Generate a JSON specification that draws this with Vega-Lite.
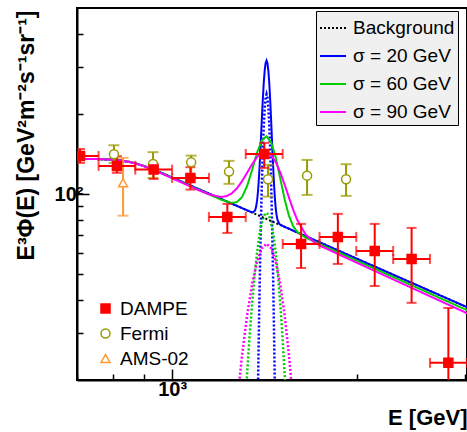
{
  "$schema": "https://vega.github.io/schema/vega-lite/v6.json",
  "width": 390,
  "height": 372,
  "autosize": {"type": "none"},
  "padding": {"left": 77, "top": 8, "right": 0, "bottom": 52},
  "background": "white",
  "config": {
    "font": "Liberation Sans",
    "view": {"stroke": "black", "strokeWidth": 2},
    "axis": {"grid": false, "domainColor": "black", "domainWidth": 2, "tickColor": "black", "tickWidth": 1.5, "labelColor": "black", "titleColor": "black", "labelFont": "Liberation Sans", "titleFont": "Liberation Sans"}
  },
  "datasets": {
    "curves": [
      {"E": 700, "F": 135.5, "s": "Background"}, {"E": 750, "F": 135.3, "s": "Background"}, {"E": 800, "F": 134.6, "s": "Background"}, {"E": 825, "F": 133.7, "s": "Background"}, {"E": 850, "F": 132.1, "s": "Background"}, {"E": 875, "F": 130.0, "s": "Background"}, {"E": 900, "F": 127.4, "s": "Background"}, {"E": 925, "F": 124.4, "s": "Background"}, {"E": 950, "F": 121.4, "s": "Background"}, {"E": 975, "F": 118.4, "s": "Background"}, {"E": 1000, "F": 115.4, "s": "Background"}, {"E": 1100, "F": 104.8, "s": "Background"}, {"E": 1200, "F": 95.97, "s": "Background"}, {"E": 1300, "F": 88.47, "s": "Background"}, {"E": 1400, "F": 82.05, "s": "Background"}, {"E": 1500, "F": 76.5, "s": "Background"}, {"E": 1700, "F": 67.37, "s": "Background"}, {"E": 2000, "F": 57.12, "s": "Background"}, {"E": 2500, "F": 45.53, "s": "Background"}, {"E": 3050, "F": 37.2, "s": "Background"},

      {"E": 700, "F": 135.5, "s": "σ = 20 GeV"}, {"E": 750, "F": 135.3, "s": "σ = 20 GeV"}, {"E": 800, "F": 134.6, "s": "σ = 20 GeV"}, {"E": 825, "F": 133.7, "s": "σ = 20 GeV"}, {"E": 850, "F": 132.1, "s": "σ = 20 GeV"}, {"E": 875, "F": 130.0, "s": "σ = 20 GeV"}, {"E": 900, "F": 127.4, "s": "σ = 20 GeV"}, {"E": 925, "F": 124.4, "s": "σ = 20 GeV"}, {"E": 950, "F": 121.4, "s": "σ = 20 GeV"}, {"E": 975, "F": 118.4, "s": "σ = 20 GeV"}, {"E": 1000, "F": 115.4, "s": "σ = 20 GeV"}, {"E": 1100, "F": 104.8, "s": "σ = 20 GeV"}, {"E": 1200, "F": 95.97, "s": "σ = 20 GeV"}, {"E": 1300, "F": 88.47, "s": "σ = 20 GeV"}, {"E": 1345, "F": 85.55, "s": "σ = 20 GeV"}, {"E": 1355, "F": 85.34, "s": "σ = 20 GeV"}, {"E": 1365, "F": 86.79, "s": "σ = 20 GeV"}, {"E": 1370, "F": 89.29, "s": "σ = 20 GeV"}, {"E": 1375, "F": 93.97, "s": "σ = 20 GeV"}, {"E": 1380, "F": 102.16, "s": "σ = 20 GeV"}, {"E": 1385, "F": 115.06, "s": "σ = 20 GeV"}, {"E": 1390, "F": 133.96, "s": "σ = 20 GeV"}, {"E": 1395, "F": 159.26, "s": "σ = 20 GeV"}, {"E": 1400, "F": 190.55, "s": "σ = 20 GeV"}, {"E": 1405, "F": 225.47, "s": "σ = 20 GeV"}, {"E": 1410, "F": 260.36, "s": "σ = 20 GeV"}, {"E": 1415, "F": 290.37, "s": "σ = 20 GeV"}, {"E": 1420, "F": 310.58, "s": "σ = 20 GeV"}, {"E": 1425, "F": 317.59, "s": "σ = 20 GeV"}, {"E": 1430, "F": 310.01, "s": "σ = 20 GeV"}, {"E": 1435, "F": 289.22, "s": "σ = 20 GeV"}, {"E": 1440, "F": 258.64, "s": "σ = 20 GeV"}, {"E": 1445, "F": 223.16, "s": "σ = 20 GeV"}, {"E": 1450, "F": 187.69, "s": "σ = 20 GeV"}, {"E": 1455, "F": 155.81, "s": "σ = 20 GeV"}, {"E": 1460, "F": 129.93, "s": "σ = 20 GeV"}, {"E": 1465, "F": 110.46, "s": "σ = 20 GeV"}, {"E": 1470, "F": 96.98, "s": "σ = 20 GeV"}, {"E": 1475, "F": 88.21, "s": "σ = 20 GeV"}, {"E": 1480, "F": 82.95, "s": "σ = 20 GeV"}, {"E": 1485, "F": 79.89, "s": "σ = 20 GeV"}, {"E": 1495, "F": 77.29, "s": "σ = 20 GeV"}, {"E": 1505, "F": 76.32, "s": "σ = 20 GeV"}, {"E": 1600, "F": 71.66, "s": "σ = 20 GeV"}, {"E": 2000, "F": 57.12, "s": "σ = 20 GeV"}, {"E": 2500, "F": 45.53, "s": "σ = 20 GeV"}, {"E": 3050, "F": 37.2, "s": "σ = 20 GeV"},

      {"E": 700, "F": 135.5, "s": "σ = 60 GeV"}, {"E": 750, "F": 135.3, "s": "σ = 60 GeV"}, {"E": 800, "F": 134.6, "s": "σ = 60 GeV"}, {"E": 825, "F": 133.7, "s": "σ = 60 GeV"}, {"E": 850, "F": 132.1, "s": "σ = 60 GeV"}, {"E": 875, "F": 130.0, "s": "σ = 60 GeV"}, {"E": 900, "F": 127.3, "s": "σ = 60 GeV"}, {"E": 925, "F": 124.2, "s": "σ = 60 GeV"}, {"E": 950, "F": 121.1, "s": "σ = 60 GeV"}, {"E": 975, "F": 118.1, "s": "σ = 60 GeV"}, {"E": 1000, "F": 115.0, "s": "σ = 60 GeV"}, {"E": 1100, "F": 104.2, "s": "σ = 60 GeV"}, {"E": 1150, "F": 99.6, "s": "σ = 60 GeV"}, {"E": 1200, "F": 95.37, "s": "σ = 60 GeV"}, {"E": 1250, "F": 92.55, "s": "σ = 60 GeV"}, {"E": 1275, "F": 93.22, "s": "σ = 60 GeV"}, {"E": 1300, "F": 97.41, "s": "σ = 60 GeV"}, {"E": 1325, "F": 107.19, "s": "σ = 60 GeV"}, {"E": 1350, "F": 123.25, "s": "σ = 60 GeV"}, {"E": 1375, "F": 142.8, "s": "σ = 60 GeV"}, {"E": 1400, "F": 159.15, "s": "σ = 60 GeV"}, {"E": 1425, "F": 164.74, "s": "σ = 60 GeV"}, {"E": 1450, "F": 156.26, "s": "σ = 60 GeV"}, {"E": 1475, "F": 136.99, "s": "σ = 60 GeV"}, {"E": 1500, "F": 114.52, "s": "σ = 60 GeV"}, {"E": 1525, "F": 95.52, "s": "σ = 60 GeV"}, {"E": 1550, "F": 82.79, "s": "σ = 60 GeV"}, {"E": 1575, "F": 75.61, "s": "σ = 60 GeV"}, {"E": 1600, "F": 71.94, "s": "σ = 60 GeV"}, {"E": 1650, "F": 68.57, "s": "σ = 60 GeV"}, {"E": 1700, "F": 66.41, "s": "σ = 60 GeV"}, {"E": 2000, "F": 56.12, "s": "σ = 60 GeV"}, {"E": 2500, "F": 44.53, "s": "σ = 60 GeV"}, {"E": 3050, "F": 36.25, "s": "σ = 60 GeV"},

      {"E": 700, "F": 135.5, "s": "σ = 90 GeV"}, {"E": 750, "F": 135.3, "s": "σ = 90 GeV"}, {"E": 800, "F": 134.6, "s": "σ = 90 GeV"}, {"E": 825, "F": 133.7, "s": "σ = 90 GeV"}, {"E": 850, "F": 132.1, "s": "σ = 90 GeV"}, {"E": 875, "F": 130.0, "s": "σ = 90 GeV"}, {"E": 900, "F": 127.1, "s": "σ = 90 GeV"}, {"E": 925, "F": 124.0, "s": "σ = 90 GeV"}, {"E": 950, "F": 120.9, "s": "σ = 90 GeV"}, {"E": 975, "F": 117.7, "s": "σ = 90 GeV"}, {"E": 1000, "F": 114.6, "s": "σ = 90 GeV"}, {"E": 1050, "F": 108.96, "s": "σ = 90 GeV"}, {"E": 1100, "F": 103.79, "s": "σ = 90 GeV"}, {"E": 1150, "F": 99.57, "s": "σ = 90 GeV"}, {"E": 1200, "F": 97.47, "s": "σ = 90 GeV"}, {"E": 1225, "F": 98.12, "s": "σ = 90 GeV"}, {"E": 1250, "F": 100.45, "s": "σ = 90 GeV"}, {"E": 1275, "F": 104.96, "s": "σ = 90 GeV"}, {"E": 1300, "F": 111.72, "s": "σ = 90 GeV"}, {"E": 1325, "F": 120.27, "s": "σ = 90 GeV"}, {"E": 1350, "F": 129.47, "s": "σ = 90 GeV"}, {"E": 1375, "F": 137.63, "s": "σ = 90 GeV"}, {"E": 1400, "F": 142.92, "s": "σ = 90 GeV"}, {"E": 1425, "F": 143.89, "s": "σ = 90 GeV"}, {"E": 1450, "F": 140.0, "s": "σ = 90 GeV"}, {"E": 1475, "F": 131.77, "s": "σ = 90 GeV"}, {"E": 1500, "F": 120.66, "s": "σ = 90 GeV"}, {"E": 1525, "F": 108.49, "s": "σ = 90 GeV"}, {"E": 1550, "F": 96.96, "s": "σ = 90 GeV"}, {"E": 1575, "F": 87.18, "s": "σ = 90 GeV"}, {"E": 1600, "F": 79.63, "s": "σ = 90 GeV"}, {"E": 1650, "F": 70.42, "s": "σ = 90 GeV"}, {"E": 1700, "F": 66.08, "s": "σ = 90 GeV"}, {"E": 1750, "F": 63.59, "s": "σ = 90 GeV"}, {"E": 2000, "F": 55.14, "s": "σ = 90 GeV"}, {"E": 2500, "F": 43.55, "s": "σ = 90 GeV"}, {"E": 3050, "F": 35.3, "s": "σ = 90 GeV"}
    ],
    "signals": [
      {"E": 1375, "F": 10.4, "s": "σ = 20 GeV"}, {"E": 1380, "F": 18.9, "s": "σ = 20 GeV"}, {"E": 1385, "F": 32.1, "s": "σ = 20 GeV"}, {"E": 1390, "F": 51.3, "s": "σ = 20 GeV"}, {"E": 1395, "F": 76.9, "s": "σ = 20 GeV"}, {"E": 1400, "F": 108.5, "s": "σ = 20 GeV"}, {"E": 1405, "F": 143.7, "s": "σ = 20 GeV"}, {"E": 1410, "F": 178.9, "s": "σ = 20 GeV"}, {"E": 1415, "F": 209.2, "s": "σ = 20 GeV"}, {"E": 1420, "F": 229.7, "s": "σ = 20 GeV"}, {"E": 1425, "F": 237, "s": "σ = 20 GeV"}, {"E": 1430, "F": 229.7, "s": "σ = 20 GeV"}, {"E": 1435, "F": 209.2, "s": "σ = 20 GeV"}, {"E": 1440, "F": 178.9, "s": "σ = 20 GeV"}, {"E": 1445, "F": 143.7, "s": "σ = 20 GeV"}, {"E": 1450, "F": 108.5, "s": "σ = 20 GeV"}, {"E": 1455, "F": 76.9, "s": "σ = 20 GeV"}, {"E": 1460, "F": 51.3, "s": "σ = 20 GeV"}, {"E": 1465, "F": 32.1, "s": "σ = 20 GeV"}, {"E": 1470, "F": 18.9, "s": "σ = 20 GeV"}, {"E": 1475, "F": 10.4, "s": "σ = 20 GeV"},
      {"E": 1275, "F": 3.73, "s": "σ = 60 GeV"}, {"E": 1300, "F": 9.71, "s": "σ = 60 GeV"}, {"E": 1312.5, "F": 14.65, "s": "σ = 60 GeV"}, {"E": 1325, "F": 21.2, "s": "σ = 60 GeV"}, {"E": 1337.5, "F": 29.35, "s": "σ = 60 GeV"}, {"E": 1350, "F": 38.91, "s": "σ = 60 GeV"}, {"E": 1362.5, "F": 49.41, "s": "σ = 60 GeV"}, {"E": 1375, "F": 60.06, "s": "σ = 60 GeV"}, {"E": 1387.5, "F": 69.92, "s": "σ = 60 GeV"}, {"E": 1400, "F": 77.94, "s": "σ = 60 GeV"}, {"E": 1412.5, "F": 83.17, "s": "σ = 60 GeV"}, {"E": 1425, "F": 85, "s": "σ = 60 GeV"}, {"E": 1437.5, "F": 83.17, "s": "σ = 60 GeV"}, {"E": 1450, "F": 77.94, "s": "σ = 60 GeV"}, {"E": 1462.5, "F": 69.92, "s": "σ = 60 GeV"}, {"E": 1475, "F": 60.06, "s": "σ = 60 GeV"}, {"E": 1487.5, "F": 49.41, "s": "σ = 60 GeV"}, {"E": 1500, "F": 38.91, "s": "σ = 60 GeV"}, {"E": 1512.5, "F": 29.35, "s": "σ = 60 GeV"}, {"E": 1525, "F": 21.2, "s": "σ = 60 GeV"}, {"E": 1537.5, "F": 14.65, "s": "σ = 60 GeV"}, {"E": 1550, "F": 9.71, "s": "σ = 60 GeV"}, {"E": 1575, "F": 3.73, "s": "σ = 60 GeV"},
      {"E": 1250, "F": 9.82, "s": "σ = 90 GeV"}, {"E": 1275, "F": 16.21, "s": "σ = 90 GeV"}, {"E": 1300, "F": 24.78, "s": "σ = 90 GeV"}, {"E": 1325, "F": 35.06, "s": "σ = 90 GeV"}, {"E": 1350, "F": 45.93, "s": "σ = 90 GeV"}, {"E": 1375, "F": 55.71, "s": "σ = 90 GeV"}, {"E": 1400, "F": 62.54, "s": "σ = 90 GeV"}, {"E": 1425, "F": 65, "s": "σ = 90 GeV"}, {"E": 1450, "F": 62.54, "s": "σ = 90 GeV"}, {"E": 1475, "F": 55.71, "s": "σ = 90 GeV"}, {"E": 1500, "F": 45.93, "s": "σ = 90 GeV"}, {"E": 1525, "F": 35.06, "s": "σ = 90 GeV"}, {"E": 1550, "F": 24.78, "s": "σ = 90 GeV"}, {"E": 1575, "F": 16.21, "s": "σ = 90 GeV"}, {"E": 1600, "F": 9.82, "s": "σ = 90 GeV"}
    ],
    "obs": [
      {"exp": "Fermi", "E": 804, "F": 141.0, "Flo": 130.9, "Fhi": 152.5},
      {"exp": "Fermi", "E": 931, "F": 129.7, "Flo": 114.9, "Fhi": 143.6},
      {"exp": "Fermi", "E": 1074, "F": 131.5, "Flo": 116.0, "Fhi": 139.4},
      {"exp": "Fermi", "E": 1238, "F": 121.4, "Flo": 109.2, "Fhi": 133.2},
      {"exp": "Fermi", "E": 1433, "F": 113.6, "Flo": 97.8, "Fhi": 128.7},
      {"exp": "Fermi", "E": 1659, "F": 117.2, "Flo": 99.2, "Fhi": 134.3},
      {"exp": "Fermi", "E": 1920, "F": 113.6, "Flo": 98.4, "Fhi": 129.4},
      {"exp": "AMS-02", "E": 832, "F": 110.1, "Flo": 82.9, "Fhi": 136.7},
      {"exp": "DAMPE", "E": 708, "F": 139.0, "Flo": 130.9, "Fhi": 147.7, "Elo": 661, "Ehi": 759},
      {"exp": "DAMPE", "E": 813, "F": 127.5, "Flo": 120.1, "Fhi": 138.7, "Elo": 759, "Ehi": 871},
      {"exp": "DAMPE", "E": 933, "F": 123.5, "Flo": 113.9, "Fhi": 129.7, "Elo": 871, "Ehi": 1000},
      {"exp": "DAMPE", "E": 1071, "F": 114.9, "Flo": 103.9, "Fhi": 126.1, "Elo": 1000, "Ehi": 1148},
      {"exp": "DAMPE", "E": 1230, "F": 82.0, "Flo": 71.4, "Fhi": 91.8, "Elo": 1148, "Ehi": 1318},
      {"exp": "DAMPE", "E": 1413, "F": 141.4, "Flo": 125.3, "Fhi": 155.6, "Elo": 1318, "Ehi": 1514},
      {"exp": "DAMPE", "E": 1622, "F": 64.9, "Flo": 52.7, "Fhi": 77.2, "Elo": 1514, "Ehi": 1738},
      {"exp": "DAMPE", "E": 1862, "F": 69.0, "Flo": 54.6, "Fhi": 84.2, "Elo": 1738, "Ehi": 1995},
      {"exp": "DAMPE", "E": 2138, "F": 61.1, "Flo": 45.1, "Fhi": 77.2, "Elo": 1995, "Ehi": 2291},
      {"exp": "DAMPE", "E": 2455, "F": 57.0, "Flo": 39.0, "Fhi": 74.6, "Elo": 2291, "Ehi": 2630},
      {"exp": "DAMPE", "E": 2818, "F": 23.2, "Flo": 12.0, "Fhi": 37.3, "Elo": 2630, "Ehi": 3020}
    ]
  },
  "encoding": {
    "x": {"field": "E", "type": "quantitative",
      "scale": {"type": "log", "domain": [700, 3022], "nice": false},
      "axis": {"values": [700, 800, 900, 1000, 2000, 3000],
        "labelExpr": "datum.value == 1000 ? '10³' : ''",
        "tickSize": {"condition": {"test": "datum.value == 1000", "value": -11}, "value": -6},
        "labelFontSize": 20, "labelFontWeight": "bold", "labelPadding": 10, "labelFlush": false,
        "title": "E [GeV]", "titleFontSize": 22, "titleFontWeight": "bold",
        "titleAnchor": "end", "titleAlign": "right", "titleBaseline": "alphabetic", "titleX": 390, "titleY": 44}},
    "y": {"field": "F", "type": "quantitative",
      "scale": {"type": "log", "domain": [20, 500], "nice": false},
      "axis": {"values": [30, 40, 50, 60, 70, 80, 90, 100, 200, 300, 400],
        "labelExpr": "datum.value == 100 ? '10²' : ''",
        "tickSize": {"condition": {"test": "datum.value == 100", "value": -12}, "value": -6},
        "labelFontSize": 20, "labelFontWeight": "bold", "labelPadding": 6,
        "title": "E³Φ(E) [GeV²m⁻²s⁻¹sr⁻¹]", "titleFontSize": 23, "titleFontWeight": "bold",
        "titleAnchor": "end", "titleAlign": "right", "titleBaseline": "alphabetic", "titleAngle": -90, "titleX": -44, "titleY": 2}}
  },
  "layer": [
    {
      "data": {"name": "signals"},
      "mark": {"type": "line", "strokeWidth": 2.5, "strokeDash": [2, 2], "clip": true},
      "encoding": {
        "color": {"field": "s", "type": "nominal", "scale": {"domain": ["Background", "σ = 20 GeV", "σ = 60 GeV", "σ = 90 GeV"], "range": ["#000000", "#0000ff", "#00cc00", "#ff00ff"]},
          "legend": {"title": null, "orient": "none", "legendX": 239, "legendY": 3, "fillColor": "#f0f0f0", "strokeColor": "#000000", "padding": 3, "labelFontSize": 19, "labelFont": "Liberation Sans", "labelColor": "black", "symbolType": "stroke", "symbolSize": 676, "symbolStrokeWidth": 2, "labelOffset": 6, "rowPadding": 4, "labelLimit": 300}}
      }
    },
    {
      "data": {"name": "curves"},
      "mark": {"type": "line", "strokeWidth": 2, "clip": true},
      "encoding": {
        "color": {"field": "s", "type": "nominal", "scale": {"domain": ["Background", "σ = 20 GeV", "σ = 60 GeV", "σ = 90 GeV"], "range": ["#000000", "#0000ff", "#00cc00", "#ff00ff"]},
          "legend": {"title": null, "orient": "none", "legendX": 239, "legendY": 3, "fillColor": "#f0f0f0", "strokeColor": "#000000", "padding": 3, "labelFontSize": 19, "labelFont": "Liberation Sans", "labelColor": "black", "symbolType": "stroke", "symbolSize": 676, "symbolStrokeWidth": 2, "labelOffset": 6, "rowPadding": 4, "labelLimit": 300}},
        "strokeDash": {"field": "s", "type": "nominal", "scale": {"domain": ["Background", "σ = 20 GeV", "σ = 60 GeV", "σ = 90 GeV"], "range": [[2, 2], [1, 0], [1, 0], [1, 0]]},
          "legend": {"title": null, "orient": "none", "legendX": 239, "legendY": 3, "fillColor": "#f0f0f0", "strokeColor": "#000000", "padding": 3, "labelFontSize": 19, "labelFont": "Liberation Sans", "labelColor": "black", "symbolType": "stroke", "symbolSize": 676, "symbolStrokeWidth": 2, "labelOffset": 6, "rowPadding": 4, "labelLimit": 300}}
      }
    },
    {
      "data": {"name": "obs"},
      "transform": [{"filter": "datum.exp == 'Fermi'"}],
      "mark": {"type": "rule", "color": "#999900", "strokeWidth": 2, "clip": true},
      "encoding": {"y": {"field": "Flo", "type": "quantitative"}, "y2": {"field": "Fhi"}}
    },
    {
      "data": {"name": "obs"},
      "transform": [{"filter": "datum.exp == 'Fermi'"}, {"fold": ["Flo", "Fhi"], "as": ["k", "v"]}],
      "mark": {"type": "tick", "orient": "horizontal", "color": "#999900", "size": 11, "thickness": 2, "clip": true},
      "encoding": {"y": {"field": "v", "type": "quantitative"}}
    },
    {
      "data": {"name": "obs"},
      "transform": [{"filter": "datum.exp == 'AMS-02'"}],
      "mark": {"type": "rule", "color": "#ff9933", "strokeWidth": 2, "clip": true},
      "encoding": {"y": {"field": "Flo", "type": "quantitative"}, "y2": {"field": "Fhi"}}
    },
    {
      "data": {"name": "obs"},
      "transform": [{"filter": "datum.exp == 'AMS-02'"}, {"fold": ["Flo", "Fhi"], "as": ["k", "v"]}],
      "mark": {"type": "tick", "orient": "horizontal", "color": "#ff9933", "size": 11, "thickness": 2, "clip": true},
      "encoding": {"y": {"field": "v", "type": "quantitative"}}
    },
    {
      "data": {"name": "obs"},
      "transform": [{"filter": "datum.exp == 'DAMPE'"}],
      "mark": {"type": "rule", "color": "#ff0000", "strokeWidth": 2, "clip": true},
      "encoding": {"y": {"field": "Flo", "type": "quantitative"}, "y2": {"field": "Fhi"}}
    },
    {
      "data": {"name": "obs"},
      "transform": [{"filter": "datum.exp == 'DAMPE'"}],
      "mark": {"type": "rule", "color": "#ff0000", "strokeWidth": 2, "clip": true},
      "encoding": {"x": {"field": "Elo", "type": "quantitative"}, "x2": {"field": "Ehi"}}
    },
    {
      "data": {"name": "obs"},
      "transform": [{"filter": "datum.exp == 'DAMPE'"}, {"fold": ["Flo", "Fhi"], "as": ["k", "v"]}],
      "mark": {"type": "tick", "orient": "horizontal", "color": "#ff0000", "size": 10, "thickness": 2, "clip": true},
      "encoding": {"y": {"field": "v", "type": "quantitative"}}
    },
    {
      "data": {"name": "obs"},
      "transform": [{"filter": "datum.exp == 'DAMPE'"}, {"fold": ["Elo", "Ehi"], "as": ["k", "v"]}],
      "mark": {"type": "tick", "orient": "vertical", "color": "#ff0000", "size": 10, "thickness": 2, "clip": true},
      "encoding": {"x": {"field": "v", "type": "quantitative"}}
    },
    {
      "data": {"name": "obs"},
      "mark": {"type": "point", "filled": true, "size": 81, "strokeWidth": 1.5, "opacity": 1, "clip": true},
      "encoding": {
        "shape": {"field": "exp", "type": "nominal", "scale": {"domain": ["DAMPE", "Fermi", "AMS-02"], "range": ["square", "circle", "triangle-up"]},
          "legend": {"title": null, "orient": "none", "legendX": 19, "legendY": 291, "labelFontSize": 19, "labelFont": "Liberation Sans", "labelColor": "black", "symbolSize": 81, "symbolStrokeWidth": 1.5, "rowPadding": 5, "labelOffset": 5}},
        "fill": {"field": "exp", "type": "nominal", "scale": {"domain": ["DAMPE", "Fermi", "AMS-02"], "range": ["#ff0000", "#ffffff", "#ffffff"]},
          "legend": {"title": null, "orient": "none", "legendX": 19, "legendY": 291, "labelFontSize": 19, "labelFont": "Liberation Sans", "labelColor": "black", "symbolSize": 81, "symbolStrokeWidth": 1.5, "rowPadding": 5, "labelOffset": 5}},
        "stroke": {"field": "exp", "type": "nominal", "scale": {"domain": ["DAMPE", "Fermi", "AMS-02"], "range": ["#ff0000", "#999900", "#ff9933"]},
          "legend": {"title": null, "orient": "none", "legendX": 19, "legendY": 291, "labelFontSize": 19, "labelFont": "Liberation Sans", "labelColor": "black", "symbolSize": 81, "symbolStrokeWidth": 1.5, "rowPadding": 5, "labelOffset": 5}}
      }
    }
  ]
}
